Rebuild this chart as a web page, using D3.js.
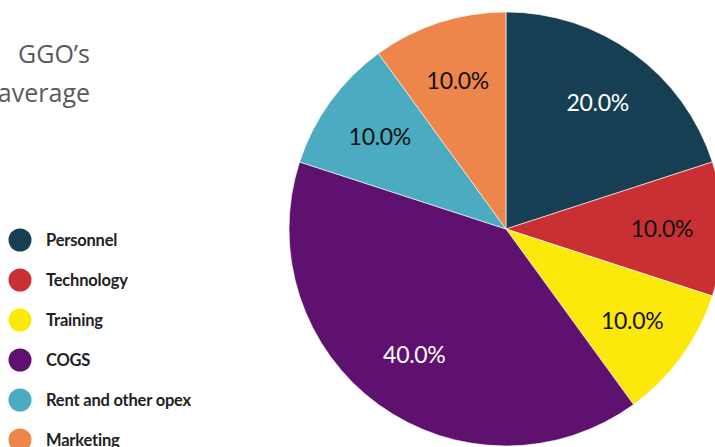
<!DOCTYPE html>
<meta charset="utf-8">
<script src="https://d3js.org/d3.v7.min.js"></script>
<style>
  body { margin: 0; background: #fff; }
</style>
<body>
<div id="chart"></div>
<script>
// slices, clockwise from 12 o'clock
var categories = ["Personnel", "Technology", "Training", "COGS", "Rent and other opex", "Marketing"];
var shares = [20, 10, 10, 40, 10, 10];
var colors = ["#173f54", "#c93033", "#fde80b", "#5f1170", "#4babc0", "#ee854a"];
var labelColors = ["#fff", "#111", "#111", "#fff", "#111", "#111"];
var headingLines = ["GGO\u2019s", "average"];

var width = 715, height = 447;

var svg = d3.select("#chart")
  .append("svg")
    .attr("width", width)
    .attr("height", height);

// heading fragment, right aligned
svg.append("g").selectAll("text")
  .data(headingLines)
  .enter().append("text")
    .attr("x", 90)
    .attr("y", function(d, i) { return 63 + i * 39; })
    .attr("text-anchor", "end")
    .style("font-family", "'Open Sans', sans-serif")
    .style("font-size", "25px")
    .style("fill", "#5a5a5a")
    .text(function(d) { return d; });

// pie
var cx = 506, cy = 229, r = 217;
var pie = d3.pie().sort(null).value(function(d) { return d; });
var arcs = pie(shares);
var arc = d3.arc().innerRadius(0).outerRadius(r);
var labelArc = d3.arc().innerRadius(156).outerRadius(156);

var g = svg.append("g").attr("transform", "translate(" + cx + "," + cy + ")");

g.selectAll("path")
  .data(arcs)
  .enter().append("path")
    .attr("d", arc)
    .attr("fill", function(d, i) { return colors[i]; })
    .attr("stroke", "#fff")
    .attr("stroke-width", 0.6);

g.selectAll("text")
  .data(arcs)
  .enter().append("text")
    .attr("transform", function(d) { return "translate(" + labelArc.centroid(d) + ")"; })
    .attr("text-anchor", "middle")
    .attr("dy", "0.35em")
    .style("font-family", "Lato, sans-serif")
    .style("font-size", "23px")
    .style("letter-spacing", "-0.3px")
    .style("fill", function(d, i) { return labelColors[i]; })
    .text(function(d) { return d3.format(".1f")(d.data) + "%"; });

// legend
var legend = svg.append("g").selectAll("g")
  .data(categories)
  .enter().append("g")
    .attr("transform", function(d, i) { return "translate(20," + (240 + i * 40) + ")"; });

legend.append("circle")
  .attr("r", 11.5)
  .attr("fill", function(d, i) { return colors[i]; });

legend.append("text")
  .attr("x", 26)
  .attr("dy", "0.35em")
  .style("font-family", "Lato, sans-serif")
  .style("font-weight", "bold")
  .style("font-size", "16.5px")
  .style("letter-spacing", "-0.2px")
  .style("fill", "#222")
  .text(function(d) { return d; });
</script>
</body>
